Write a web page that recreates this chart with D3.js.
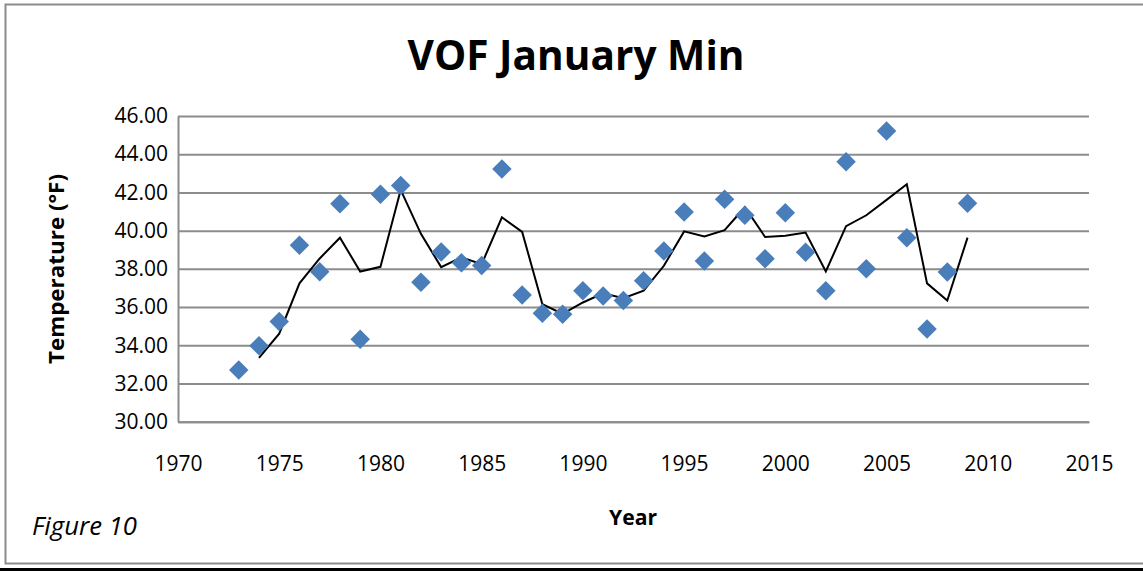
<!DOCTYPE html>
<html>
<head>
<meta charset="utf-8">
<script src="https://cdn.jsdelivr.net/npm/d3@7"></script>
<style>
  html, body { margin: 0; padding: 0; background: #fff; }
  svg { display: block; font-family: 'Open Sans', sans-serif; }
</style>
</head>
<body>
<div id="chart"></div>
<script>
/* globals d3 */

// data
const years = [1973, 1974, 1975, 1976, 1977, 1978, 1979, 1980, 1981, 1982,
  1983, 1984, 1985, 1986, 1987, 1988, 1989, 1990, 1991, 1992,
  1993, 1994, 1995, 1996, 1997, 1998, 1999, 2000, 2001, 2002,
  2003, 2004, 2005, 2006, 2007, 2008, 2009]
const minTemps = [32.71, 33.98, 35.24, 39.24, 37.85, 41.41, 34.31, 41.90, 42.36, 37.30,
  38.88, 38.32, 38.17, 43.23, 36.63, 35.67, 35.62, 36.86, 36.58, 36.34,
  37.38, 38.94, 40.98, 38.41, 41.64, 40.81, 38.53, 40.93, 38.87, 36.86,
  43.61, 38.00, 45.22, 39.63, 34.85, 37.84, 41.43]
const yTicks = [30, 32, 34, 36, 38, 40, 42, 44, 46]
const xTicks = [1970, 1975, 1980, 1985, 1990, 1995, 2000, 2005, 2010, 2015]

const width = 1143
const height = 571
const plot = {left: 178, right: 1089, top: 116, bottom: 421.7}

const points = years.map((yr, i) => ({year: yr, temp: minTemps[i]}))

// 2 period moving average trendline, the way the spreadsheet draws it
const trend = d3.pairs(points, (a, b) => ({year: b.year, temp: (a.temp + b.temp) / 2}))

const svg = d3.select('#chart').append('svg')
  .attr('width', width)
  .attr('height', height)

const x = d3.scaleLinear().domain([1970, 2015]).range([plot.left, plot.right])
const y = d3.scaleLinear().domain([30, 46]).range([plot.bottom, plot.top])

// outer frame
svg.append('rect')
  .attr('x', 5.5).attr('y', 4.5)
  .attr('width', width + 10).attr('height', 559)
  .attr('fill', 'none')
  .attr('stroke', '#8c8c8c')
  .attr('stroke-width', 2)
svg.append('rect')
  .attr('x', 0).attr('y', 568)
  .attr('width', width).attr('height', 3)
  .attr('fill', '#000')

// gridlines
svg.append('g')
  .attr('class', 'grid')
  .attr('transform', 'translate(' + plot.left + ',0)')
  .call(d3.axisLeft(y).tickValues(yTicks).tickSize(-(plot.right - plot.left)).tickFormat(''))
  .call(g => g.select('.domain').remove())
  .call(g => g.selectAll('line').attr('stroke', '#8c8c8c').attr('stroke-width', 2))

// y axis
svg.append('g')
  .attr('transform', 'translate(' + plot.left + ',0)')
  .call(d3.axisLeft(y).tickValues(yTicks).tickSize(0).tickPadding(10).tickFormat(d3.format('.2f')))
  .call(g => g.select('.domain').attr('stroke', '#8c8c8c').attr('stroke-width', 2))
  .call(g => g.selectAll('text').attr('font-size', 21).attr('font-family', 'Open Sans').attr('fill', '#000'))

// x axis
svg.append('g')
  .attr('transform', 'translate(0,' + plot.bottom + ')')
  .call(d3.axisBottom(x).tickValues(xTicks).tickSize(0).tickPadding(34).tickFormat(d3.format('d')))
  .call(g => g.select('.domain').attr('stroke', '#8c8c8c').attr('stroke-width', 2))
  .call(g => g.selectAll('text').attr('font-size', 21).attr('font-family', 'Open Sans').attr('fill', '#000'))

// trendline
svg.append('path')
  .datum(trend)
  .attr('fill', 'none')
  .attr('stroke', '#000')
  .attr('stroke-width', 2)
  .attr('d', d3.line().x(d => x(d.year)).y(d => y(d.temp)))

// markers
svg.append('g')
  .selectAll('path')
  .data(points)
  .join('path')
  .attr('d', d3.symbol(d3.symbolSquare, 190))
  .attr('transform', d => 'translate(' + x(d.year) + ',' + y(d.temp) + ') rotate(45)')
  .attr('fill', '#4a7ebb')

// titles
svg.append('text')
  .attr('x', 576).attr('y', 70)
  .attr('text-anchor', 'middle')
  .attr('font-size', 42)
  .attr('font-weight', 'bold')
  .attr('textLength', 337)
  .attr('lengthAdjust', 'spacingAndGlyphs')
  .text('VOF January Min')

svg.append('text')
  .attr('transform', 'translate(64,269) rotate(-90)')
  .attr('text-anchor', 'middle')
  .attr('font-size', 22)
  .attr('font-weight', 'bold')
  .attr('textLength', 190)
  .attr('lengthAdjust', 'spacingAndGlyphs')
  .text('Temperature (°F)')

svg.append('text')
  .attr('x', 633).attr('y', 525)
  .attr('text-anchor', 'middle')
  .attr('font-size', 22)
  .attr('font-weight', 'bold')
  .attr('textLength', 48)
  .attr('lengthAdjust', 'spacingAndGlyphs')
  .text('Year')

svg.append('text')
  .attr('x', 32).attr('y', 535)
  .attr('font-size', 26)
  .attr('font-style', 'italic')
  .attr('textLength', 105)
  .attr('lengthAdjust', 'spacingAndGlyphs')
  .text('Figure 10')
</script>
</body>
</html>
